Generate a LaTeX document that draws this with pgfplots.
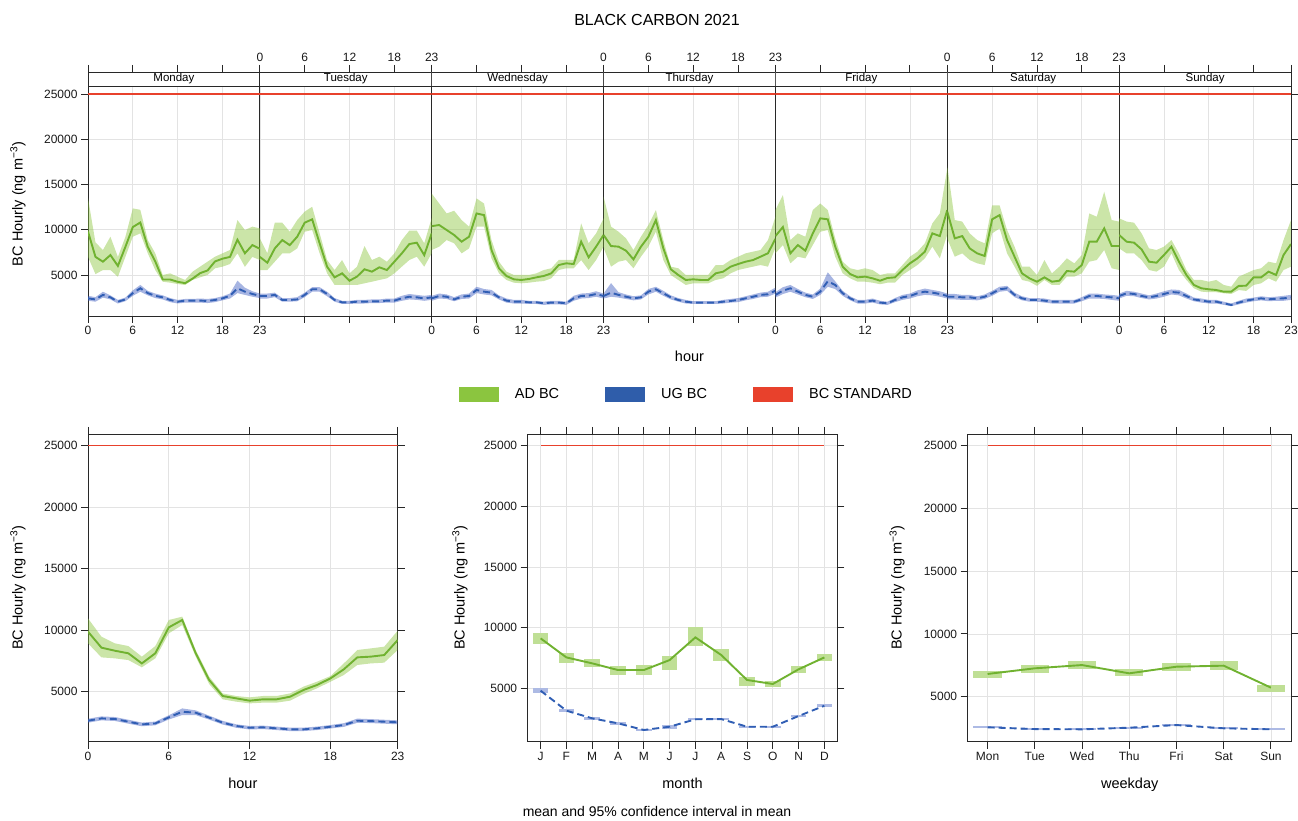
\documentclass[border=0pt]{standalone}
\usepackage{fontspec}
\setmainfont{Liberation Sans}
\usepackage{pgfplots}
\pgfplotsset{compat=1.18}
\usepackage{pgfplotstable}
\usepgfplotslibrary{fillbetween}

\definecolor{ADleg}{RGB}{139,197,63}
\definecolor{ADline}{RGB}{112,178,48}
\definecolor{ADfill}{RGB}{139,197,63}
\definecolor{UGleg}{RGB}{47,93,170}
\definecolor{UGline}{RGB}{48,94,180}
\definecolor{UGfill}{RGB}{60,90,190}
\definecolor{STDred}{RGB}{232,65,44}
\definecolor{framec}{RGB}{40,40,40}

\pgfplotstableread{
h ad adlo adhi ug uglo ughi
0 9800 7000 13500 2420 2150 2700
1 7000 5100 8600 2300 2050 2550
2 6470 5550 7760 2800 2500 3150
3 7200 5550 9230 2530 2300 2750
4 6000 4800 7000 2050 1850 2250
5 8100 7000 9200 2300 2100 2500
6 10300 9230 12360 3000 2700 3300
7 10800 9600 12200 3530 3150 3900
8 8100 7400 8860 3000 2750 3250
9 6500 5550 7400 2700 2450 2950
10 4500 4260 5000 2530 2300 2750
11 4500 4150 5180 2240 2000 2450
12 4250 4000 4800 2050 1850 2250
13 4100 3900 4450 2170 1950 2350
14 4600 4450 5370 2170 1950 2350
15 5200 4740 5920 2170 1950 2400
16 5500 5000 6470 2130 1900 2350
17 6500 5740 7020 2240 2000 2450
18 6800 5920 7390 2420 2200 2650
19 7000 6210 7760 2700 2400 2950
20 8900 7400 11070 3530 3000 4370
21 7400 5900 9970 3160 2800 3600
22 8300 7000 10340 2900 2600 3200
23 7900 6650 10150 2700 2450 2950
}\dMon

\pgfplotstableread{
h ad adlo adhi ug uglo ughi
0 7000 5550 9050 2680 2400 2950
1 6360 5550 7400 2680 2400 2950
2 7940 6470 10780 2800 2550 3050
3 8860 7390 10780 2240 2050 2450
4 8300 7390 9780 2240 2050 2450
5 9230 7940 11070 2300 2100 2550
6 10780 9780 12000 2800 2550 3050
7 11150 9970 12540 3420 3150 3650
8 8500 7390 9600 3420 3150 3650
9 5920 5180 6650 2900 2650 3150
10 4740 3900 5550 2240 2050 2450
11 5180 3900 6650 1980 1800 2150
12 4370 3900 5180 1980 1800 2150
13 4820 3900 5920 2050 1850 2250
14 5630 4080 8200 2050 1850 2250
15 5370 4260 6650 2090 1900 2300
16 5850 4450 7020 2090 1900 2300
17 5550 4630 6470 2170 1950 2400
18 6470 5180 7390 2170 1950 2400
19 7390 5920 8860 2420 2150 2700
20 8420 6650 9900 2600 2300 2900
21 8570 7020 9900 2530 2250 2800
22 7200 5920 8500 2420 2150 2700
23 9600 7400 11300 2530 2250 2800
}\dTue

\pgfplotstableread{
h ad adlo adhi ug uglo ughi
0 10400 7760 14000 2420 2150 2700
1 10520 8130 12900 2680 2400 2950
2 9970 8860 11800 2600 2350 2850
3 9420 8500 12100 2300 2100 2550
4 8680 7390 11070 2600 2350 2850
5 9230 7940 10340 2680 2400 2950
6 11800 10340 13460 3340 3000 3700
7 11620 10340 12900 3160 2850 3450
8 7760 6840 8860 3050 2750 3350
9 5740 5180 6470 2530 2300 2750
10 4890 4450 5370 2170 1950 2400
11 4520 4150 5000 2050 1850 2250
12 4450 4080 5000 2050 1850 2250
13 4560 4150 5000 1980 1800 2150
14 4740 4260 5180 1980 1800 2150
15 4890 4330 5550 1870 1700 2050
16 5180 4630 5740 1950 1750 2150
17 6100 5550 6660 1950 1750 2150
18 6290 5740 6660 1870 1700 2050
19 6210 5740 6660 2420 2150 2700
20 8680 6650 10700 2680 2400 2950
21 6950 5550 8500 2720 2450 3000
22 8130 6650 9600 2900 2600 3200
23 9420 8130 11260 2680 2400 2950
}\dWed

\pgfplotstableread{
h ad adlo adhi ug uglo ughi
0 9420 8000 13650 2680 2400 2950
1 8200 5920 10340 3050 2600 4100
2 8130 6470 9780 2800 2500 3100
3 7690 6650 9050 2600 2350 2850
4 6730 5740 7760 2420 2200 2650
5 8130 7020 9230 2530 2300 2750
6 9230 8130 10520 3160 2850 3450
7 11070 9780 12180 3420 3150 3700
8 7940 6650 8860 2980 2700 3250
9 5630 5000 5920 2530 2300 2750
10 5000 4450 5740 2240 2050 2450
11 4450 3900 5000 2050 1850 2250
12 4520 4080 5000 1950 1800 2100
13 4450 4080 5000 1950 1800 2100
14 4450 4080 5000 1950 1800 2100
15 5180 4450 6100 1950 1800 2100
16 5370 4630 6100 2050 1850 2250
17 5920 5180 6650 2130 1950 2350
18 6210 5550 7020 2240 2000 2450
19 6470 5740 7390 2420 2200 2650
20 6650 5920 7580 2600 2350 2850
21 7020 6100 7760 2800 2550 3050
22 7400 5920 8860 2870 2600 3150
23 9000 8000 11440 3270 2950 3600
}\dThu

\pgfplotstableread{
h ad adlo adhi ug uglo ughi
0 9300 7390 12180 2800 2500 3100
1 10300 8310 13830 3270 2900 3650
2 7390 6290 8860 3530 3150 3900
3 8310 7020 9600 3160 2850 3450
4 7690 6840 9230 2800 2550 3050
5 9600 8310 12180 2600 2350 2850
6 11260 9780 12900 3160 2800 3500
7 11150 9970 12180 4300 3700 5300
8 8130 7020 9050 3900 3450 4300
9 5920 5180 6470 2980 2700 3250
10 5110 4630 5740 2420 2200 2650
11 4740 4260 5550 2050 1850 2250
12 4820 4260 5740 2050 1850 2250
13 4630 4150 5550 2170 1950 2400
14 4370 3980 5000 1950 1750 2150
15 4670 4150 5180 1870 1700 2050
16 4740 4150 5180 2240 2000 2450
17 5550 5000 6100 2530 2250 2800
18 6290 5550 7020 2680 2400 2950
19 6840 6100 7580 2980 2650 3300
20 7580 6840 8500 3160 2800 3500
21 9600 8130 10700 3050 2750 3350
22 9300 6840 11800 2900 2600 3200
23 12180 9500 16800 2680 2400 2950
}\dFri

\pgfplotstableread{
h ad adlo adhi ug uglo ughi
0 12000 9000 17000 2600 2300 2900
1 9050 7020 11070 2600 2300 2900
2 9300 7390 10900 2530 2250 2800
3 7940 6650 9600 2530 2250 2800
4 7390 6290 8860 2420 2200 2650
5 7100 6100 8500 2600 2350 2850
6 11150 9600 12700 2980 2700 3250
7 11620 10150 12700 3420 3150 3700
8 8860 7390 9970 3530 3250 3800
9 7020 5920 8130 2800 2550 3050
10 5180 4450 5920 2420 2200 2650
11 4630 4260 5920 2240 2050 2450
12 4260 3800 5000 2240 2050 2450
13 4740 4450 6650 2170 1950 2400
14 4260 3900 5180 2050 1850 2250
15 4370 3900 5920 2050 1850 2250
16 5440 4820 6840 2050 1850 2250
17 5370 4820 6290 2050 1850 2250
18 6100 5180 7210 2310 2100 2550
19 8680 6470 11800 2680 2400 2950
20 8680 6650 11440 2680 2400 2950
21 10150 7760 14200 2600 2350 2850
22 8200 5740 11070 2530 2250 2800
23 8200 5550 10900 2420 2150 2700
}\dSat

\pgfplotstableread{
h ad adlo adhi ug uglo ughi
0 9420 7940 11260 2680 2400 2950
1 8680 7390 10900 2980 2700 3250
2 8570 7390 10780 2900 2650 3150
3 7830 6650 9600 2680 2450 2950
4 6470 5550 7940 2530 2300 2750
5 6360 5370 7760 2680 2400 2950
6 7210 5920 8130 2900 2600 3200
7 8130 7390 8860 3120 2850 3400
8 6470 5550 7390 3050 2750 3350
9 5000 4450 5550 2680 2400 2950
10 3900 3530 4450 2300 2100 2500
11 3530 3160 4450 2170 1950 2400
12 3420 3100 4260 2050 1850 2250
13 3340 3100 4450 2050 1850 2250
14 3160 2980 3900 1870 1700 2050
15 3160 2900 3710 1690 1550 1850
16 3790 3340 4820 1950 1750 2150
17 3820 3240 5180 2170 1950 2400
18 4740 3900 5550 2310 2100 2500
19 4740 4080 5740 2420 2200 2650
20 5370 4630 6470 2310 2100 2550
21 5000 4260 6290 2380 2150 2600
22 7210 5550 8860 2420 2150 2700
23 8420 5920 11070 2530 2250 2800
}\dSun

\pgfplotstableread{
h ad adlo adhi ug uglo ughi std
0 9880 8930 10960 2640 2480 2800 25000
1 8580 7790 9470 2830 2670 2990 25000
2 8330 7710 8930 2780 2620 2940 25000
3 8120 7570 8710 2560 2400 2720 25000
4 7300 6980 7850 2340 2190 2490 25000
5 8120 7710 8710 2420 2270 2570 25000
6 10230 9740 10830 2910 2740 3080 25000
7 10830 10420 11100 3370 3100 3640 25000
8 8120 7850 8390 3290 3100 3480 25000
9 5950 5620 6220 2890 2730 3050 25000
10 4650 4380 4860 2480 2330 2630 25000
11 4460 4190 4650 2210 2070 2350 25000
12 4270 4050 4540 2070 1930 2210 25000
13 4380 4110 4650 2100 1960 2240 25000
14 4380 4110 4650 2020 1880 2160 25000
15 4590 4270 4860 1940 1800 2080 25000
16 5140 4810 5410 1940 1800 2080 25000
17 5540 5270 5810 2020 1880 2160 25000
18 6080 5810 6270 2150 2010 2290 25000
19 6820 6360 7300 2290 2140 2440 25000
20 7790 7170 8390 2640 2470 2810 25000
21 7850 7300 8520 2610 2450 2770 25000
22 7980 7360 8660 2560 2400 2720 25000
23 9200 8390 9960 2510 2350 2670 25000
}\hourtab

\pgfplotstableread{
m ad adlo adhi ug uglo ughi std
1 9120 8650 9530 4810 4600 5000 25000
2 7550 7060 7880 3160 3060 3260 25000
3 7060 6730 7420 2530 2430 2630 25000
4 6510 6100 6840 2120 2020 2220 25000
5 6510 6100 6920 1570 1460 1680 25000
6 7330 6510 7660 1840 1680 2000 25000
7 9200 8490 10030 2450 2360 2540 25000
8 7750 7280 8270 2470 2380 2560 25000
9 5690 5220 5900 1840 1750 1930 25000
10 5360 5140 5630 1840 1750 1930 25000
11 6570 6240 6840 2720 2620 2820 25000
12 7550 7230 7830 3570 3430 3710 25000
}\monthtab

\pgfplotstableread{
d ad adlo adhi ug uglo ughi std
1 6810 6510 7070 2560 2470 2650 25000
2 7260 6910 7500 2420 2340 2500 25000
3 7520 7180 7870 2400 2310 2490 25000
4 6860 6650 7180 2530 2440 2620 25000
5 7390 7070 7710 2740 2650 2830 25000
6 7470 7120 7870 2480 2390 2570 25000
7 5720 5400 5930 2400 2310 2490 25000
}\wdaytab

\pgfplotstableread{
x y
0 25000
23 25000
}\stdhour

\pgfplotsset{
  lat/.style={scale only axis, anchor=south west,
    axis line style={line width=0.9pt, draw=framec},
    tick style={line width=0.9pt, draw=framec},
    major tick length=7pt, tick align=outside,
    xmajorgrids, ymajorgrids,
    grid style={line width=0.7pt, draw=black!11},
    ticklabel style={font=\fontsize{12}{12}\selectfont, text=black!90},
    /pgf/number format/assume math mode=true,
    /pgf/number format/set thousands separator={},
    scaled y ticks=false,
    ytick={5000,10000,15000,20000,25000},
    label style={font=\fontsize{14.5}{14.5}\selectfont},
  },
  adline/.style={draw=ADline, line width=1.9pt},
  ugline/.style={draw=UGline, line width=1.9pt, dash pattern=on 7pt off 4pt},
  stdline/.style={draw=STDred, line width=1.6pt},
  day/.style={lat, width=171.857pt, height=244pt, xmin=0, xmax=23,
    ymin=470, ymax=27431, xtick={0,6,12,18,23}, xtick pos=both},
  inner/.style={ytick style={draw=none}, yticklabels={}},
  bot/.style={lat, height=307.7pt, xtick pos=both, ytick pos=both,
    xlabel style={anchor=center}, ylabel style={anchor=center}},
}

\newcommand{\ylab}{BC Hourly (ng m\textsuperscript{−3})}

\newcommand{\bands}[1]{%
  \addplot[name path=ah, draw=none, forget plot] table[x index=0,y=adhi]{#1};
  \addplot[name path=al, draw=none, forget plot] table[x index=0,y=adlo]{#1};
  \addplot[fill=ADfill, fill opacity=0.45, draw=none, forget plot] fill between[of=ah and al];
  \addplot[name path=uh, draw=none, forget plot] table[x index=0,y=ughi]{#1};
  \addplot[name path=ul, draw=none, forget plot] table[x index=0,y=uglo]{#1};
  \addplot[fill=UGfill, fill opacity=0.45, draw=none, forget plot] fill between[of=uh and ul];
  \addplot[adline, forget plot] table[x index=0,y=ad]{#1};
  \addplot[ugline, forget plot] table[x index=0,y=ug]{#1};
}
\newcommand{\daycontent}[2]{%
  \bands{#1}
  \addplot[stdline, forget plot] table[x=x,y=y]{\stdhour};
  \draw[line width=0.9pt, draw=framec, fill=white] (axis cs:0,25884) rectangle (axis cs:23,27431);
  \node[font=\fontsize{11.5}{11.5}\selectfont] at (axis cs:11.5,26657) {#2};
}
\newcommand{\boxes}[3]{% table, x col, box width
  \addplot[draw=none, forget plot, error bars/.cd, y dir=both, y explicit, error mark=none,
    error bar style={draw=ADfill!55!white, line width=#3}]
    table[x=#2, y=ad, y error plus expr=\thisrow{adhi}-\thisrow{ad}, y error minus expr=\thisrow{ad}-\thisrow{adlo}]{#1};
  \addplot[draw=none, forget plot, error bars/.cd, y dir=both, y explicit, error mark=none,
    error bar style={draw=UGfill!42!white, line width=#3}]
    table[x=#2, y=ug, y error plus expr=\thisrow{ughi}-\thisrow{ug}, y error minus expr=\thisrow{ug}-\thisrow{uglo}]{#1};
  \addplot[adline, forget plot] table[x=#2,y=ad]{#1};
  \addplot[ugline, forget plot] table[x=#2,y=ug]{#1};
}

\begin{document}
\begin{tikzpicture}

% ---- top: day of week x hour ----
\begin{axis}[day, at={(88pt,505pt)}, ytick pos=left,
  ylabel={\ylab}, ylabel style={at={(axis description cs:-0.407,0.459)}, anchor=center},
  legend image code/.code={\fill[#1, draw=none] (0pt,-7.5pt) rectangle (40pt,7.5pt);},
  legend style={at={(axis description cs:3.482,-0.32)}, anchor=center, draw=none, fill=none,
    legend columns=3, font=\fontsize{14.5}{14.5}\selectfont,
    /tikz/every odd column/.append style={column sep=14pt},
    /tikz/every even column/.append style={column sep=44pt}}]
\addlegendimage{fill=ADleg}
\addlegendimage{fill=UGleg}
\addlegendimage{fill=STDred}
\daycontent{\dMon}{Monday}
\legend{AD BC, UG BC, BC STANDARD}
\end{axis}
\begin{axis}[day, inner, at={(259.857pt,505pt)}, xticklabel pos=right]
\daycontent{\dTue}{Tuesday}
\end{axis}
\begin{axis}[day, inner, at={(431.714pt,505pt)}]
\daycontent{\dWed}{Wednesday}
\end{axis}
\begin{axis}[day, inner, at={(603.571pt,505pt)}, xticklabel pos=right,
  xlabel={hour}, xlabel style={at={(axis description cs:0.5,-0.164)}, anchor=center}]
\daycontent{\dThu}{Thursday}
\end{axis}
\begin{axis}[day, inner, at={(775.429pt,505pt)}]
\daycontent{\dFri}{Friday}
\end{axis}
\begin{axis}[day, inner, at={(947.286pt,505pt)}, xticklabel pos=right]
\daycontent{\dSat}{Saturday}
\end{axis}
\begin{axis}[day, at={(1119.143pt,505pt)}, ytick pos=right, yticklabels={}]
\daycontent{\dSun}{Sunday}
\end{axis}

% ---- bottom: hour ----
\begin{axis}[bot, at={(88pt,79.3pt)}, width=309.7pt, xmin=0, xmax=23, ymin=935, ymax=25950,
  xtick={0,6,12,18,23}, xlabel={hour}, ylabel={\ylab},
  xlabel style={at={(axis description cs:0.5,-0.134)}},
  ylabel style={at={(axis description cs:-0.226,0.5)}}]
\bands{\hourtab}
\addplot[stdline, forget plot] table[x=h,y=std]{\hourtab};
\node[font=\tiny] at (axis cs:11.5,20000) {};
\end{axis}

% ---- bottom: month ----
\begin{axis}[bot, at={(527.7pt,79.3pt)}, width=309.6pt, xmin=0.5, xmax=12.5, ymin=605, ymax=25960,
  xtick={1,2,3,4,5,6,7,8,9,10,11,12}, xticklabels={J,F,M,A,M,J,J,A,S,O,N,D},
  xlabel={month}, ylabel={\ylab},
  xlabel style={at={(axis description cs:0.5,-0.134)}},
  ylabel style={at={(axis description cs:-0.219,0.5)}}]
\boxes{\monthtab}{m}{15.5pt}
\addplot[fill=STDred, draw=none, forget plot] coordinates {(1,24935) (12,24935) (12,25065) (1,25065)} -- cycle;
\end{axis}

% ---- bottom: weekday ----
\begin{axis}[bot, at={(967.7pt,79.3pt)}, width=324pt, xmin=0.58, xmax=7.44, ymin=1414, ymax=25930,
  xtick={1,2,3,4,5,6,7}, xticklabels={Mon,Tue,Wed,Thu,Fri,Sat,Sun},
  xlabel={weekday}, ylabel={\ylab},
  xlabel style={at={(axis description cs:0.5,-0.141)}},
  ylabel style={at={(axis description cs:-0.218,0.5)}}]
\boxes{\wdaytab}{d}{28.3pt}
\addplot[adline, draw=STDred, line width=1.6pt, forget plot] table[x=d,y=std]{\wdaytab};
\end{axis}

\node[font=\fontsize{16}{16}\selectfont] at (657pt,801pt) {BLACK CARBON 2021};
\node[font=\fontsize{14}{14}\selectfont] at (657pt,10pt) {mean and 95\% confidence interval in mean};
\pgfresetboundingbox
\path[use as bounding box] (0pt,0pt) rectangle (1298pt,821pt);
\end{tikzpicture}
\end{document}
